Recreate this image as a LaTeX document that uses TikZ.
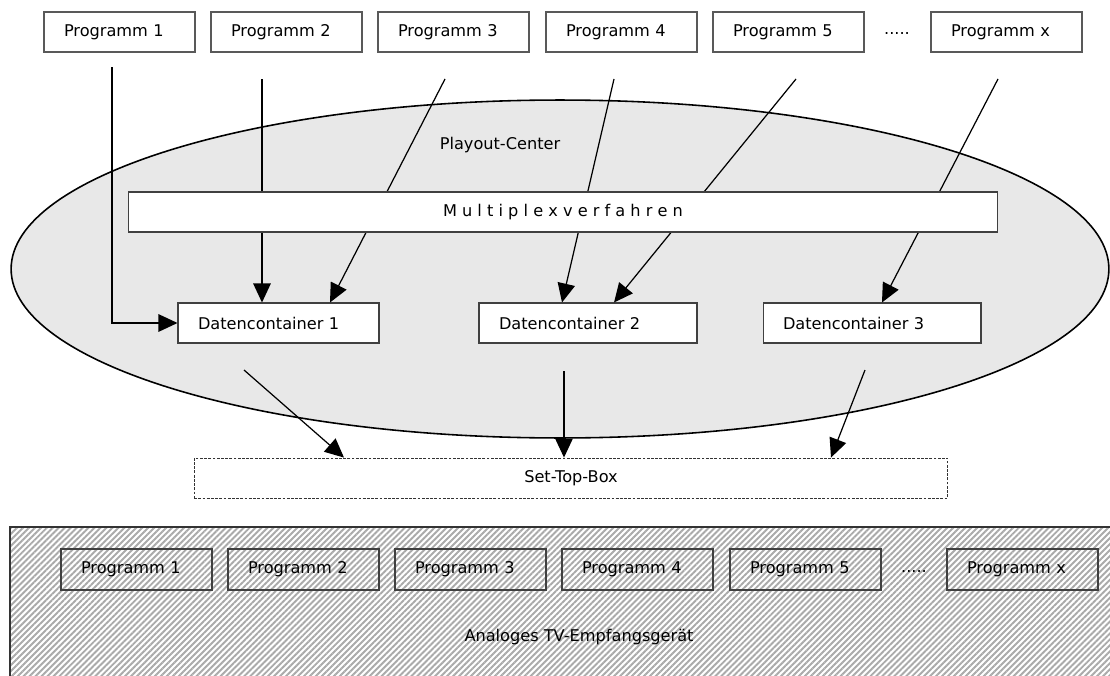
\documentclass[tikz,border=0pt]{standalone}
\usepackage{fontspec}
\setmainfont{DejaVu Sans}
\usepackage {tikz}
\usetikzlibrary {arrows.meta,patterns.meta}
\definecolor {playgray}{HTML}{E8E8E8}
\definecolor {hatchgray}{HTML}{AAAAAA}

\begin{document}
\begin{tikzpicture}[x=0.02cm,y=-0.02cm,->,>={Triangle[length=3.8mm,width=3.5mm]},
  line width=0.7pt,font=\fontsize{9.2}{11}\selectfont]
  \tikzstyle{prog}=[draw=black!65, line width=0.6pt, minimum height=0.8cm,
text width=2.22cm, inner xsep=0.4cm, align=left]
  \tikzstyle{container}=[draw=black!75, fill=white, line width=0.6pt,
minimum height=0.8cm, inner xsep=0.4cm, align=left]
  \tikzstyle{tvprog}=[draw=black!75, line width=0.6pt, minimum height=0.82cm,
text width=2.22cm, inner xsep=0.4cm, align=left]
  \clip (0,0) rectangle (1110,676);

  % Playout-Center
  \draw[-, line width=0.9pt, fill=playgray] (560,269) ellipse [x radius=10.98cm, y radius=3.38cm];
  \node (PC) at (500,145) {Playout-Center};

  \node[prog] (P_1) at (119.5,32) {Programm 1};
  \node[prog] (P_2) at (286.5,32) {Programm 2};
  \node[prog] (P_3) at (453.5,32) {Programm 3};
  \node[prog] (P_4) at (621.5,32) {Programm 4};
  \node[prog] (P_5) at (788.5,32) {Programm 5};
  \node (P_dots) at (897,33) {.....};
  \node[prog] (P_x) at (1006.5,32) {Programm x};

  \node[container, text width=3.22cm] (DC_1) at (278.5,323) {Datencontainer 1};
  \node[container, text width=3.56cm] (DC_2) at (588,323) {Datencontainer 2};
  \node[container, text width=3.56cm] (DC_3) at (872,323) {Datencontainer 3};

  \coordinate (S_1) at (112,67);
  \coordinate (S_2) at (262,79);
  \coordinate (S_3) at (445,79);
  \coordinate (S_4) at (614,79);
  \coordinate (S_5) at (796,79);
  \coordinate (S_x) at (998,79);

  \draw (S_1) |- (DC_1.west);
  \draw (S_2) -- (S_2 |- DC_1.north);
  \draw (S_3) -- (330,0 |- DC_1.north);
  \draw (S_4) -- (562,0 |- DC_2.north);
  \draw (S_5) -- (614,0 |- DC_2.north);
  \draw (S_x) -- (882,0 |- DC_3.north);

  % Multiplex bar
  \node[draw=black!75, fill=white, line width=0.6pt, minimum width=17.4cm,
minimum height=0.8cm] (MUX) at (563,212) {M u l t i p l e x v e r f a h r e n};

  % Set-Top-Box
  \node[draw=black!80, dash pattern=on 1.6pt off 0.8pt, line width=0.5pt,
minimum width=15.08cm, minimum height=0.8cm] (STB) at (571,478) {Set-Top-Box};

  \coordinate (C_1) at (244,370);
  \coordinate (C_2) at (564,371);
  \coordinate (C_3) at (865,370);
  \draw (C_1) -- (344,0 |- STB.north);
  \draw (C_2) -- (C_2 |- STB.north);
  \draw (C_3) -- (831,0 |- STB.north);

  % Analoges TV-Geraet
  \draw[-, line width=1.2pt, draw=black!80, preaction={fill=white},
pattern={Lines[angle=45,distance=2.4pt,line width=1.1pt]}, pattern color=hatchgray]
(10,527) rectangle (1140,700);
  \node[tvprog] (T_1) at (136.5,569.5) {Programm 1};
  \node[tvprog] (T_2) at (303.5,569.5) {Programm 2};
  \node[tvprog] (T_3) at (470.5,569.5) {Programm 3};
  \node[tvprog] (T_4) at (637.5,569.5) {Programm 4};
  \node[tvprog] (T_5) at (805.5,569.5) {Programm 5};
  \node (T_dots) at (914,571) {.....};
  \node[tvprog] (T_x) at (1022.5,569.5) {Programm x};
  \node (TV) at (579,637) {Analoges TV-Empfangsgerät};
\end{tikzpicture}
\end{document}
